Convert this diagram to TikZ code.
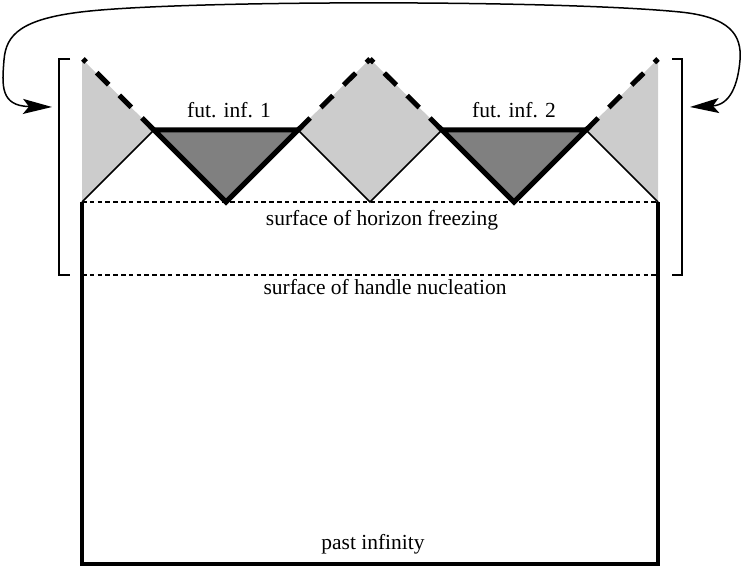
\documentclass[tikz,border=0pt]{standalone}
\usepackage{fontspec}
\setmainfont{Liberation Serif}
\usetikzlibrary{arrows.meta}
\definecolor{lightg}{gray}{0.8}
\definecolor{darkg}{gray}{0.5}
\tikzset{
  thinline/.style={line width=1.6pt},
  thickline/.style={line width=5pt, line join=miter},
  nulldash/.style={line width=5pt, dash pattern=on 17pt off 15pt},
  surfdash/.style={line width=1.1pt, dash pattern=on 4.5pt off 3.3pt},
  bracket/.style={line width=2pt},
  lbl/.style={font=\fontsize{21.5}{25}\selectfont, inner sep=0pt, anchor=base},
  idtip/.tip={Stealth[length=29pt,width=15pt,inset=6pt]}
}
\begin{document}
\begin{tikzpicture}[x=1pt,y=-1pt]
\useasboundingbox (0,0) rectangle (747,569);
% key points
\coordinate (a0) at (82,202);
\coordinate (t0) at (83,59);
\coordinate (v1) at (154,130);
\coordinate (b1) at (226,202);
\coordinate (v2) at (298,130);
\coordinate (t1) at (370,59);
\coordinate (b2) at (370,202);
\coordinate (v3) at (442,130);
\coordinate (b3) at (514,202);
\coordinate (v4) at (586,130);
\coordinate (t2) at (658,59);
\coordinate (a1) at (658,202);
% fills
\fill[lightg] (82,59) -- (v1) -- (a0) -- cycle;
\fill[lightg] (v2) -- (t1) -- (v3) -- (b2) -- cycle;
\fill[lightg] (t2) -- (v4) -- (a1) -- cycle;
\fill[darkg] (v1) -- (v2) -- (b1) -- cycle;
\fill[darkg] (v3) -- (v4) -- (b3) -- cycle;
% surfaces
\draw[surfdash] (82,202) -- (658,202);
\draw[surfdash] (82,275) -- (658,275);
% thin null lines
\draw[thinline] (a0) -- (v1);
\draw[thinline] (v2) -- (b2) -- (v3);
\draw[thinline] (v4) -- (a1);
% dashed null infinities
\draw[nulldash] (v1) -- (t0);
\draw[nulldash] (v2) -- (t1);
\draw[nulldash] (v3) -- (t1);
\draw[nulldash] (v4) -- (t2);
% future infinities
\draw[thickline] (v1) -- (v2) -- (b1) -- cycle;
\draw[thickline] (v3) -- (v4) -- (b3) -- cycle;
% main rectangle
\draw[line width=4.5pt, line join=miter] (a0) -- (82,564) -- (658,564) -- (a1);
% brackets
\draw[bracket] (70,59) -- (59,59) -- (59,275) -- (70,275);
\draw[bracket] (672,59) -- (682,59) -- (682,275) -- (672,275);
% identification arrow
\coordinate (L) at (52,107);
\coordinate (R) at (690,107);
\draw[line width=1.5pt, arrows={idtip-idtip}]
  (L) .. controls (0,106) and (2,85) .. (4,60)
      .. controls (6,35) and (20,18) .. (90,11)
      .. controls (200,0) and (560,0) .. (680,12)
      .. controls (730,17) and (742,35) .. (740,60)
      .. controls (738,85) and (730,105) .. (R);
% labels
\node[lbl] (f1) at (229,118) {fut. inf. 1};
\node[lbl] (f2) at (514,118) {fut. inf. 2};
\node[lbl] (hf) at (382,226) {surface of horizon freezing};
\node[lbl] (hn) at (385,295) {surface of handle nucleation};
\node[lbl] (pi) at (373,549) {past infinity};
\end{tikzpicture}
\end{document}
